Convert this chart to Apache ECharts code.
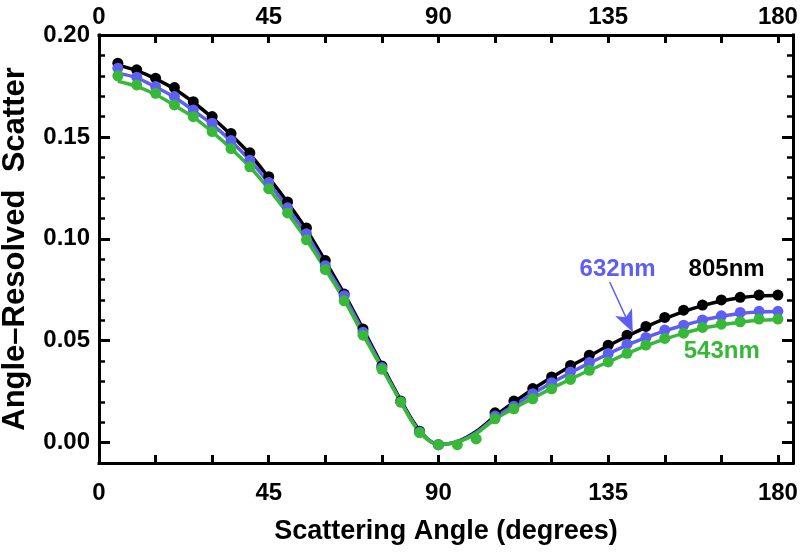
<!DOCTYPE html>
<html>
<head>
<meta charset="utf-8">
<script src="https://cdn.jsdelivr.net/npm/echarts@6/dist/echarts.min.js"></script>
<style>html,body{margin:0;padding:0;background:#fff;}#c{width:800px;height:552px;}</style>
</head>
<body>
<div id="c"></div>
<script>
// ---- data ----
const angles = [5,10,15,20,25,30,35,40,45,50,55,60,65,70,75,80,85,90,95,100,105,110,115,120,125,130,135,140,145,150,155,160,165,170,175,180];

const lineBlack = [0.1852,0.1825,0.1785,0.1735,0.1670,0.1595,0.1510,0.1415,0.1300,0.1178,0.1045,0.0890,0.0730,0.0558,0.0380,0.0208,0.0060,-0.0008,0.0005,0.0055,0.0130,0.0198,0.0262,0.0320,0.0375,0.0425,0.0475,0.0522,0.0567,0.0608,0.0643,0.0672,0.0695,0.0711,0.0720,0.0722];
const lineBlue  = [0.1813,0.1790,0.1745,0.1695,0.1630,0.1562,0.1480,0.1385,0.1275,0.1150,0.1022,0.0868,0.0718,0.0545,0.0372,0.0203,0.0055,-0.0008,0.0004,0.0050,0.0122,0.0182,0.0240,0.0293,0.0343,0.0390,0.0435,0.0478,0.0515,0.0548,0.0576,0.0600,0.0620,0.0634,0.0641,0.0643];
const lineGreen = [0.1773,0.1748,0.1708,0.1655,0.1597,0.1525,0.1443,0.1352,0.1245,0.1125,0.0995,0.0850,0.0700,0.0530,0.0365,0.0200,0.0052,-0.0008,0.0003,0.0045,0.0115,0.0168,0.0218,0.0266,0.0311,0.0355,0.0396,0.0437,0.0475,0.0508,0.0536,0.0561,0.0578,0.0591,0.0600,0.0604];

const ptsBlack = [0.1862,0.1829,0.1788,0.1742,0.1673,0.1600,0.1517,0.1422,0.1305,0.1181,0.1053,0.0893,0.0729,0.0557,0.0376,0.0204,0.0056,-0.0010,null,null,0.0146,0.0204,0.0265,0.0322,0.0379,0.0429,0.0478,0.0527,0.0570,0.0614,0.0650,0.0675,0.0700,0.0713,0.0724,0.0724];
const ptsBlue  = [0.1837,0.1793,0.1747,0.1698,0.1632,0.1567,0.1482,0.1386,0.1276,0.1152,0.1025,0.0868,0.0721,0.0542,0.0368,0.0199,0.0052,-0.0010,null,null,0.0130,0.0179,0.0240,0.0294,0.0346,0.0393,0.0437,0.0483,0.0516,0.0552,0.0576,0.0602,0.0622,0.0639,0.0644,0.0644];
const ptsGreen = [0.1800,0.1755,0.1714,0.1657,0.1599,0.1526,0.1443,0.1353,0.1246,0.1127,0.0995,0.0849,0.0696,0.0527,0.0360,0.0199,0.0049,-0.0010,-0.0010,0.0018,0.0117,0.0166,0.0215,0.0264,0.0310,0.0355,0.0396,0.0438,0.0479,0.0511,0.0537,0.0565,0.0581,0.0593,0.0606,0.0606];

const xMin = 0, xMax = 184, xStep = 15, xLabelStep = 45;
const yMin = -0.01, yMax = 0.20, yMinorStep = 0.01, yMajorStep = 0.05;
const labels = {
  red: '805nm', blue: '632nm', green: '543nm'
};
const arrowFrom = [135.4, 0.0788], arrowTo = [141.5, 0.0542];

// ---- styles ----
const C_BLACK = '#000000', C_BLUE = '#5E5EF4', C_GREEN = '#38B838';
const FONT = 'Liberation Sans';
const W = 800, H = 552;
const G = {left: 99, right: 7, top: 35, bottom: 89};
const plotH = H - G.top - G.bottom;
const g1Bottom = G.bottom + (0 - yMin) / (yMax - yMin) * plotH;

function pairs(arr) {
  return angles.map((a, i) => [a, arr[i]]);
}
function axLine(show) {
  return {show: show, onZero: false, lineStyle: {color: '#000', width: 3, cap: 'square'}};
}
function ticks(len, w) {
  return {show: true, inside: true, length: len, lineStyle: {width: w, color: '#000'}};
}

const chart = echarts.init(document.getElementById('c'), null, {renderer: 'canvas'});

const xLabelFmt = v => (Math.abs(v % xLabelStep) < 1e-6 ? String(v) : '');

const option = {
  backgroundColor: '#fff',
  animation: false,
  grid: [
    {left: G.left, right: G.right, top: G.top, bottom: G.bottom, containLabel: false, outerBoundsMode: 'none'},
    {left: G.left, right: G.right, top: G.top, bottom: g1Bottom, containLabel: false, outerBoundsMode: 'none'}
  ],
  xAxis: [
    {type: 'value', gridIndex: 0, position: 'bottom', min: xMin, max: xMax, interval: xStep,
     axisLine: axLine(true), splitLine: {show: false}, axisTick: ticks(8, 3),
     axisLabel: {formatter: xLabelFmt, fontFamily: FONT, fontWeight: 'bold', fontSize: 24, color: '#000', margin: 18},
     name: 'Scattering Angle (degrees)', nameLocation: 'middle', nameGap: 55,
     nameTextStyle: {fontFamily: FONT, fontWeight: 'bold', fontSize: 27, color: '#000'}},
    {type: 'value', gridIndex: 0, position: 'top', min: xMin, max: xMax, interval: xStep,
     axisLine: axLine(true), splitLine: {show: false}, axisTick: ticks(8, 3),
     axisLabel: {formatter: xLabelFmt, fontFamily: FONT, fontWeight: 'bold', fontSize: 24, color: '#000', margin: 6}},
    {type: 'value', gridIndex: 1, min: xMin, max: xMax, show: false}
  ],
  yAxis: [
    {type: 'value', gridIndex: 0, position: 'left', min: yMin, max: yMax, interval: yMinorStep,
     axisLine: axLine(true), splitLine: {show: false}, axisTick: ticks(6, 2.5),
     axisLabel: {show: false},
     name: 'Angle\u2013Resolved  Scatter', nameLocation: 'middle', nameGap: 68, nameRotate: 90,
     nameTextStyle: {fontFamily: FONT, fontWeight: 'bold', fontSize: 31, color: '#000'}},
    {type: 'value', gridIndex: 0, position: 'right', min: yMin, max: yMax, interval: yMinorStep,
     axisLine: axLine(true), splitLine: {show: false}, axisTick: ticks(6, 2.5),
     axisLabel: {show: false}},
    {type: 'value', gridIndex: 1, position: 'left', min: 0, max: yMax, interval: yMajorStep,
     axisLine: axLine(false), splitLine: {show: false}, axisTick: ticks(11, 3),
     axisLabel: {formatter: v => v.toFixed(2), fontFamily: FONT, fontWeight: 'bold', fontSize: 24, color: '#000', margin: 9}},
    {type: 'value', gridIndex: 1, position: 'right', min: 0, max: yMax, interval: yMajorStep,
     axisLine: axLine(false), splitLine: {show: false}, axisTick: ticks(11, 3),
     axisLabel: {show: false}}
  ],
  series: [
    {type: 'line', name: 'fit805', xAxisIndex: 0, yAxisIndex: 0, data: pairs(lineBlack), smooth: 0.35, showSymbol: false, symbol: 'none',
     lineStyle: {color: C_BLACK, width: 3.5}, z: 2},
    {type: 'line', name: 'fit632', xAxisIndex: 0, yAxisIndex: 0, data: pairs(lineBlue), smooth: 0.35, showSymbol: false, symbol: 'none',
     lineStyle: {color: C_BLUE, width: 3.5}, z: 2,
     markLine: {silent: true, symbol: ['none', 'arrow'], symbolSize: [14, 22], label: {show: false},
       lineStyle: {color: C_BLUE, width: 1.5, type: 'solid'},
       data: [[{coord: arrowFrom}, {coord: arrowTo}]]}},
    {type: 'line', name: 'fit543', xAxisIndex: 0, yAxisIndex: 0, data: pairs(lineGreen), smooth: 0.35, showSymbol: false, symbol: 'none',
     lineStyle: {color: C_GREEN, width: 3.5}, z: 2},
    {type: 'scatter', name: '805nm', xAxisIndex: 0, yAxisIndex: 0, data: pairs(ptsBlack).filter(p => p[1] !== null), symbolSize: 11,
     itemStyle: {color: C_BLACK, opacity: 1}, z: 3},
    {type: 'scatter', name: '632nm', xAxisIndex: 0, yAxisIndex: 0, data: pairs(ptsBlue).filter(p => p[1] !== null), symbolSize: 11,
     itemStyle: {color: C_BLUE, opacity: 1}, z: 4},
    {type: 'scatter', name: '543nm', xAxisIndex: 0, yAxisIndex: 0, data: pairs(ptsGreen).filter(p => p[1] !== null), symbolSize: 11,
     itemStyle: {color: C_GREEN, opacity: 1}, z: 5}
  ]
};
chart.setOption(option);

// annotation labels placed in data coordinates
function addLabels() {
  const items = [
    {text: labels.blue, at: [137.5, 0.0852], color: C_BLUE},
    {text: labels.red, at: [166.4, 0.0852], color: C_BLACK},
    {text: labels.green, at: [165.1, 0.0448], color: C_GREEN}
  ];
  const gr = items.map(it => {
    const p = chart.convertToPixel({xAxisIndex: 0, yAxisIndex: 0}, it.at);
    return {type: 'text', x: p[0], y: p[1], z: 10,
      style: {text: it.text, fill: it.color, font: 'bold 24px "Liberation Sans"', textAlign: 'center', textVerticalAlign: 'middle'}};
  });
  chart.setOption({graphic: gr});
}
addLabels();
</script>
</body>
</html>
